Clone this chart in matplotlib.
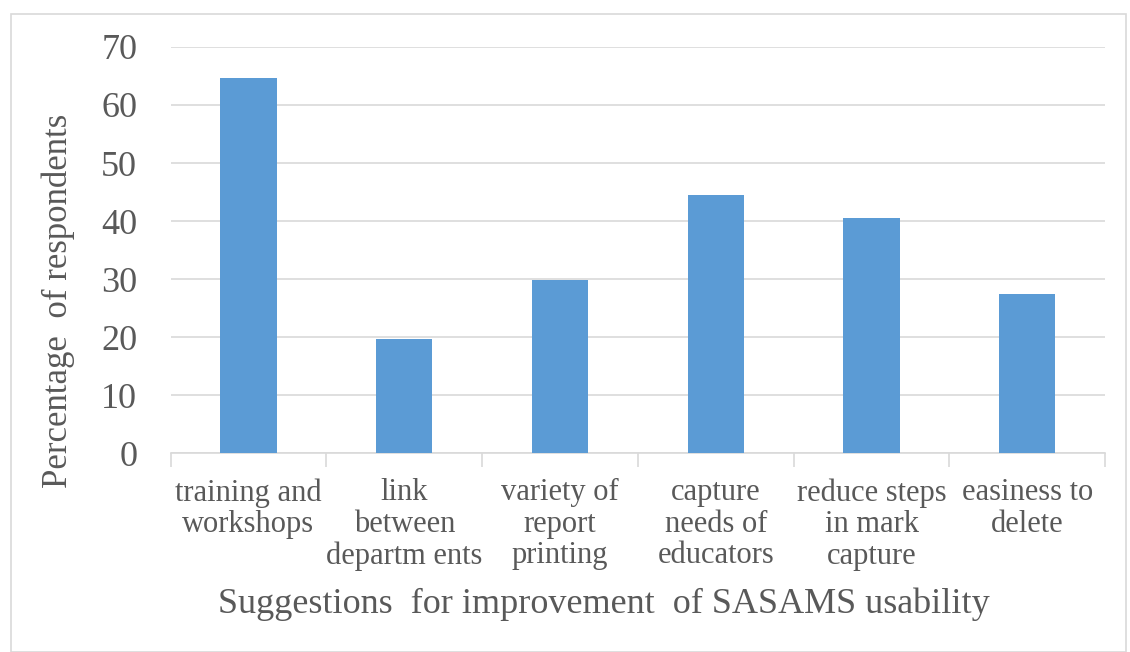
import numpy as np
import matplotlib.pyplot as plt
from matplotlib.patches import Rectangle

categories = ["training and\nworkshops", "link\nbetween\ndepartm ents", "variety of\nreport\nprinting",
              "capture\nneeds of\neducators", "reduce steps\nin mark\ncapture", "easiness to\ndelete"]
values = [64.7, 19.6, 29.8, 44.5, 40.6, 27.4]
yticks = [0, 10, 20, 30, 40, 50, 60, 70]

plt.rcParams['font.family'] = ['Liberation Serif', 'DejaVu Serif']
grey = '#595959'

fig = plt.figure(figsize=(11.3, 6.52), dpi=100)
ax = fig.add_axes([0.151, 0.305, 0.827, 0.623])

x = np.arange(len(categories))
ax.bar(x, values, width=0.36, color='#5b9bd5', zorder=3)

ax.set_xlim(-0.5, len(categories) - 0.5)
ax.set_ylim(0, 70)
ax.set_yticks(yticks)
ax.yaxis.grid(True, color='#d9d9d9', linewidth=1.2, zorder=0)
ax.set_axisbelow(True)

for s in ['top', 'right', 'left']:
    ax.spines[s].set_visible(False)
ax.spines['bottom'].set_color('#d9d9d9')
ax.spines['bottom'].set_linewidth(1.2)

# ticks at category boundaries
ax.set_xticks(np.arange(-0.5, len(categories), 1.0))
ax.set_xticklabels([])
ax.tick_params(axis='x', length=10, color='#d9d9d9', width=1.2)
ax.set_xticks(x, minor=True)
ax.set_xticklabels(categories, minor=True, fontsize=22, color=grey, linespacing=1.12)
ax.tick_params(axis='x', which='minor', length=0, pad=18)
ax.tick_params(axis='y', length=0, labelsize=26, labelcolor=grey, pad=24)

ax.set_ylabel("Percentage  of respondents", fontsize=25, color=grey)
ax.yaxis.set_label_coords(-0.102, 0.375)
ax.set_xlabel("Suggestions  for improvement  of SASAMS usability", fontsize=26, color=grey)
ax.xaxis.set_label_coords(0.464, -0.33)

fig.patches.append(Rectangle((11 / 1130, 0), 1115 / 1130, 1 - 14 / 652, transform=fig.transFigure,
                             fill=False, edgecolor='#d9d9d9', linewidth=1.2))

fig.savefig('out.png', dpi=100)
